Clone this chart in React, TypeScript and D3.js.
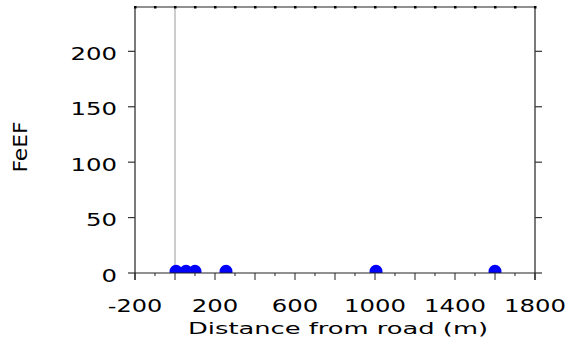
import * as d3 from "d3";

// distance from road (m) vs FeEF
const distances = [5, 55, 100, 255, 1005, 1600];
const feef = [1.5, 1.5, 1.5, 1.5, 1.5, 1.5];

const xTickLabels = [-200, 200, 600, 1000, 1400, 1800];
const yTickLabels = [0, 50, 100, 150, 200];

const W = 570;
const H = 352;
const font = "DejaVu Sans, Verdana, sans-serif";

export default function App() {
  const margin = { top: 7, right: 35, bottom: 79, left: 135 };
  const x = d3.scaleLinear().domain([-200, 1800]).range([margin.left, W - margin.right]);
  const y = d3.scaleLinear().domain([0, 240]).range([H - margin.bottom, margin.top]);

  const [x0, x1] = x.range();
  const [yb, yt] = y.range();
  const everyHundred = d3.range(-200, 1801, 100);
  const yTicks = d3.range(0, 201, 50);

  // widths of the (stretched) labels in the reference
  const labelLen = (s: string) => s.replace("-", "").length * 15.5 + (s.includes("-") ? 8 : 0);

  return (
    <svg width={W} height={H} style={{ position: "absolute", left: 0, top: 0 }}>
      <defs>
        <clipPath id="plot">
          <rect x={x0} y={yt} width={x1 - x0} height={yb - yt} />
        </clipPath>
      </defs>

      {/* reference line at road */}
      <line x1={x(0)} x2={x(0)} y1={yt} y2={yb} stroke="#bdbdbd" strokeWidth={1.5} />

      {/* points */}
      <g clipPath="url(#plot)">
        {distances.map((d, i) => (
          <circle key={i} cx={x(d)} cy={y(feef[i])} r={6.5} fill="#0000ff" />
        ))}
      </g>

      {/* frame */}
      <g stroke="#222" strokeWidth={1.2} fill="none">
        <line x1={x0} x2={x1} y1={yt} y2={yt} />
        <line x1={x0} x2={x1} y1={yb} y2={yb} />
        <line x1={x0} x2={x0} y1={yt} y2={yb + 7} />
        <line x1={x1} x2={x1} y1={yt} y2={yb + 7} />
      </g>

      {/* bottom ticks */}
      <g stroke="#222" strokeWidth={1}>
        {everyHundred.map((t) => (
          <line key={t} x1={x(t)} x2={x(t)} y1={yb} y2={yb + ((t + 200) % 200 === 0 ? 7 : 3)} />
        ))}
      </g>

      {/* top ticks */}
      <g fill="#000">
        {everyHundred.map((t) => (
          <rect key={t} x={x(t) - 1} y={yt - 1} width={2.5} height={2.5} />
        ))}
      </g>

      {/* y ticks, both sides */}
      <g stroke="#333" strokeWidth={1.2}>
        {yTicks.map((t) => (
          <g key={t}>
            <line x1={x0 - 7} x2={x0} y1={y(t)} y2={y(t)} />
            <line x1={x1} x2={x1 + 7} y1={y(t)} y2={y(t)} />
          </g>
        ))}
      </g>

      {/* tick labels */}
      <g fontFamily={font} fontSize={18} fill="#000">
        {xTickLabels.map((t) => (
          <text
            key={t}
            x={x(t)}
            y={311.5}
            textAnchor="middle"
            textLength={labelLen(String(t))}
            lengthAdjust="spacingAndGlyphs"
          >
            {t}
          </text>
        ))}
        {yTickLabels.map((t) => (
          <text
            key={t}
            x={117}
            y={y(t) + 8.5}
            fontSize={17}
            textAnchor="end"
            textLength={labelLen(String(t))}
            lengthAdjust="spacingAndGlyphs"
          >
            {t}
          </text>
        ))}
      </g>

      {/* axis titles */}
      <text
        x={338}
        y={333.5}
        fontFamily={font}
        fontSize={16}
        textAnchor="middle"
        textLength={300}
        lengthAdjust="spacingAndGlyphs"
      >
        Distance from road (m)
      </text>
      <text
        transform={`translate(26.5,147) rotate(-90)`}
        fontFamily={font}
        fontSize={19}
        textAnchor="middle"
        textLength={51}
        lengthAdjust="spacingAndGlyphs"
      >
        FeEF
      </text>
    </svg>
  );
}
